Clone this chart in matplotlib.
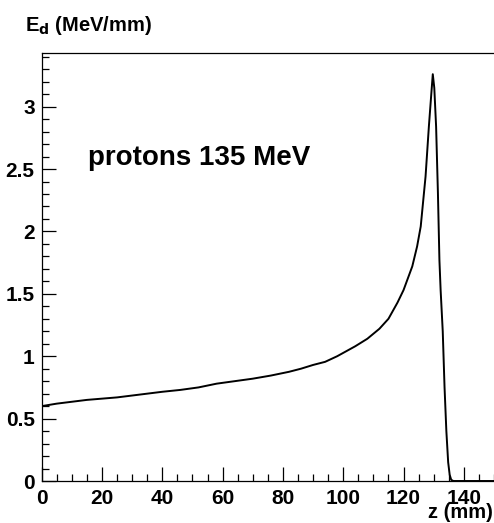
import matplotlib.pyplot as plt
from matplotlib.ticker import MultipleLocator

# energy deposit vs depth
z_mm = [0, 5, 10, 15, 20, 25, 30, 35, 40, 46, 52, 58, 64, 70, 76, 82, 86, 90,
        94, 98, 101, 104, 108, 112, 115, 118, 120, 122.9, 124.5, 125.7, 127.3,
        128.4, 129.2, 129.7, 130.2, 130.8, 131.4, 131.9, 132.3, 133.0, 133.6,
        134.2, 134.8, 135.3, 135.8, 136.5, 150]
edep = [0.60, 0.62, 0.635, 0.65, 0.66, 0.67, 0.685, 0.70, 0.715, 0.73, 0.75,
        0.78, 0.80, 0.82, 0.845, 0.875, 0.90, 0.93, 0.955, 1.00, 1.04, 1.08,
        1.14, 1.22, 1.30, 1.43, 1.53, 1.72, 1.88, 2.04, 2.44, 2.84, 3.10, 3.26,
        3.15, 2.84, 2.31, 1.77, 1.53, 1.20, 0.75, 0.40, 0.15, 0.05, 0.01, 0.0,
        0.0]

plt.rcParams['font.family'] = ['Liberation Sans', 'DejaVu Sans']
plt.rcParams['font.weight'] = 'bold'

fig = plt.figure(figsize=(4.94, 5.23), dpi=100)
ax = fig.add_axes([0.0844, 0.0803, 0.9156, 0.8184])

ax.plot(z_mm, edep, color='black', lw=1.4)

ax.set_xlim(0, 150)
ax.set_ylim(0, 3.43)

# ROOT style ticks: inward, major + minor
ax.xaxis.set_major_locator(MultipleLocator(20))
ax.xaxis.set_minor_locator(MultipleLocator(5))
ax.yaxis.set_major_locator(MultipleLocator(0.5))
ax.yaxis.set_minor_locator(MultipleLocator(0.1))
ax.yaxis.set_major_formatter(plt.FuncFormatter(lambda v, p: '%g' % v))
ax.tick_params(which='major', direction='in', length=10, width=0.9,
               labelsize=15, pad=5)
ax.tick_params(which='minor', direction='in', length=5, width=0.9)
ax.tick_params(axis='x', which='major', pad=6)
for lab in ax.get_xticklabels() + ax.get_yticklabels():
    lab.set_fontweight('bold')

ax.spines['right'].set_visible(False)
for s in ['left', 'bottom', 'top']:
    ax.spines[s].set_linewidth(0.9)

ax.text(15.3, 2.53, 'protons 135 MeV', fontsize=20, fontweight='bold')

fig.text(0.05, 0.94, r'E$_\mathbf{d}$ (MeV/mm)', fontsize=14.5,
         fontweight='bold', ha='left', va='baseline')
fig.text(0.998, 0.01, 'z (mm)', fontsize=14.5, fontweight='bold',
         ha='right', va='baseline')

fig.savefig('out.png', dpi=100)
